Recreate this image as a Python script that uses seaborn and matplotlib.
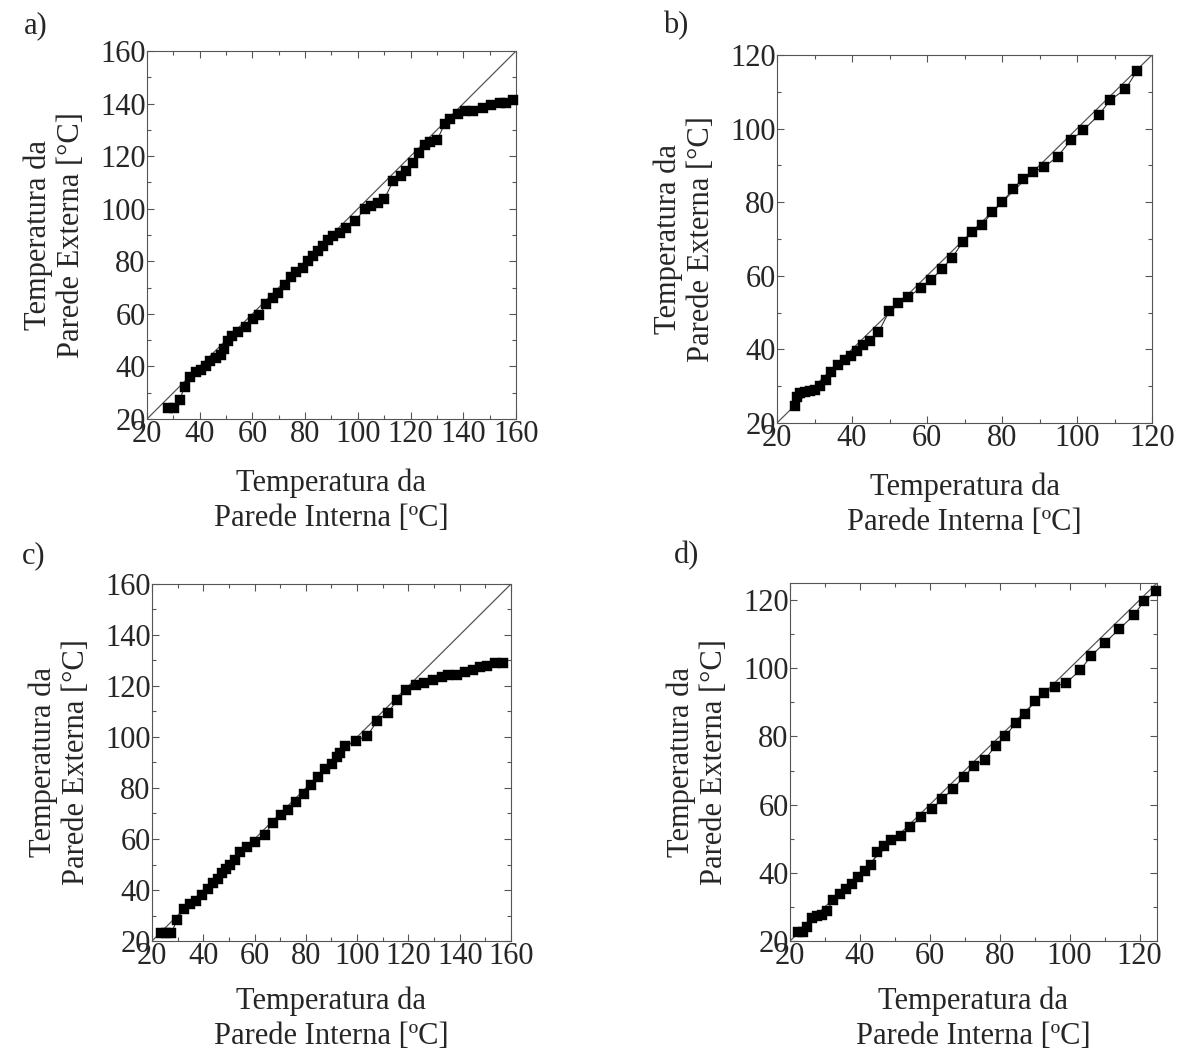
import numpy as np
import pandas as pd
import matplotlib
matplotlib.use("Agg")
import matplotlib.pyplot as plt
from matplotlib.ticker import MultipleLocator
import seaborn as sns

# ---------------- data ----------------
a_x = [28.0, 30.2, 32.4, 34.3, 36.2, 38.5, 40.6, 42.5, 44.1, 46.0, 47.9, 49.2, 50.7, 52.4,
       54.5, 57.7, 60.2, 62.5, 65.3, 67.8, 69.7, 72.2, 74.7, 76.6, 79.2, 81.1, 83.0, 84.9,
       86.8, 88.6, 90.5, 93.1, 95.6, 98.8, 102.6, 105.1, 107.6, 110.1, 113.3, 116.5, 118.4,
       121.0, 123.2, 125.3, 127.2, 130.1, 132.9, 135.0, 137.9, 140.5, 143.6, 147.4, 150.6,
       153.8, 156.3, 158.8]
a_y = [24.3, 24.3, 27.4, 32.2, 36.0, 37.7, 38.5, 40.0, 41.9, 43.2, 44.5, 46.6, 49.5, 51.4,
       53.0, 55.0, 58.0, 59.7, 63.7, 66.0, 67.9, 71.1, 74.2, 76.1, 77.4, 80.0, 82.1, 83.8,
       85.7, 88.2, 89.7, 90.7, 92.6, 95.2, 99.8, 101.1, 102.1, 103.8, 110.4, 112.3, 114.2,
       117.3, 121.1, 124.3, 125.2, 126.2, 132.2, 134.1, 136.1, 137.0, 137.1, 138.3, 139.5,
       140.1, 140.4, 141.2]

b_x = [24.7, 25.2, 26.2, 27.4, 28.7, 30.1, 31.4, 33.0, 34.5, 36.3, 38.1, 39.7, 41.2, 42.8,
       44.8, 47.0, 49.9, 52.3, 55.0, 58.3, 61.1, 63.9, 66.6, 69.5, 72.1, 74.7, 77.3, 80.1,
       82.9, 85.5, 88.2, 91.2, 94.8, 98.4, 101.7, 105.8, 108.9, 112.9, 116.0]
b_y = [24.5, 27.1, 28.0, 28.4, 28.6, 28.9, 30.0, 31.6, 33.8, 35.7, 37.0, 38.1, 39.5, 41.3,
       42.2, 44.6, 50.3, 52.6, 54.2, 56.7, 58.9, 61.8, 64.8, 69.1, 71.9, 73.7, 77.3, 80.0,
       83.6, 86.3, 88.1, 89.5, 92.4, 96.9, 99.6, 103.7, 107.8, 110.7, 115.7]

c_x = [23.5, 25.6, 27.5, 29.7, 32.3, 34.9, 37.3, 39.5, 41.8, 43.8, 45.6, 47.3, 49.0, 50.5,
       52.5, 54.4, 57.0, 60.3, 63.9, 67.0, 70.3, 73.2, 76.2, 79.1, 82.1, 84.9, 87.5, 90.1,
       92.1, 93.4, 95.3, 99.5, 104.0, 107.9, 111.9, 115.7, 119.0, 123.0, 126.1, 129.7, 133.0,
       135.6, 138.8, 142.1, 145.3, 147.9, 150.5, 153.8, 157.0]
c_y = [23.1, 23.1, 23.1, 28.1, 32.7, 34.4, 35.6, 38.2, 40.5, 42.9, 44.2, 46.7, 48.3, 49.7,
       51.9, 54.9, 56.9, 58.9, 61.5, 66.3, 69.3, 71.3, 74.6, 77.6, 81.1, 84.4, 87.4, 89.3,
       92.0, 93.8, 96.4, 98.5, 100.5, 106.4, 109.5, 114.5, 118.4, 120.4, 121.0, 122.3, 123.4,
       124.3, 124.5, 125.6, 126.2, 127.3, 127.8, 129.1, 129.2]

d_x = [22.2, 23.6, 24.8, 26.2, 27.7, 29.1, 30.6, 32.3, 34.2, 36.1, 37.8, 39.5, 41.4, 43.3,
       45.0, 46.9, 49.0, 51.7, 54.4, 57.5, 60.5, 63.5, 66.7, 69.8, 72.6, 75.7, 78.8, 81.5,
       84.6, 87.2, 90.1, 92.8, 95.7, 99.1, 103.1, 106.2, 110.1, 114.1, 118.3, 121.3, 124.8]
d_y = [22.5, 22.5, 24.0, 26.8, 27.2, 27.7, 28.9, 32.0, 33.8, 35.3, 36.7, 38.9, 40.4, 42.3,
       46.0, 48.0, 49.7, 50.7, 53.4, 56.5, 58.7, 61.6, 64.7, 68.2, 71.4, 73.2, 77.2, 80.0,
       83.9, 86.6, 90.4, 92.8, 94.5, 95.8, 99.5, 103.7, 107.5, 111.4, 115.5, 119.7, 122.6]

panel_letters = ["a)", "b)", "c)", "d)"]
x_label = "Temperatura da\nParede Interna [ºC]"
y_label = "Temperatura da\nParede Externa [°C]"
limits = [(20, 160), (20, 120), (20, 160), (20, 125)]

# ---------------- style ----------------
sns.set_style("ticks")
plt.rcParams["font.family"] = ["Liberation Serif", "DejaVu Serif"]

fig = plt.figure(figsize=(11.89, 10.52), dpi=100)

positions = [
    [0.1236, 0.6017, 0.3104, 0.3498],
    [0.6535, 0.5980, 0.3154, 0.3497],
    [0.1278, 0.1055, 0.3020, 0.3394],
    [0.6644, 0.1055, 0.3087, 0.3403],
]
letter_pos = [(0.020, 0.976), (0.558, 0.976), (0.018, 0.472), (0.567, 0.472)]
xlabel_pads = [14, 14, 11, 11]
datasets = [(a_x, a_y), (b_x, b_y), (c_x, c_y), (d_x, d_y)]

for i, ((xs, ys), pos, lim) in enumerate(zip(datasets, positions, limits)):
    ax = fig.add_axes(pos)
    df = pd.DataFrame({"x": xs, "y": ys})
    lo, hi = lim
    ax.axline((lo, lo), slope=1, color="#555555", lw=0.9, zorder=1)
    sns.lineplot(data=df, x="x", y="y", sort=False, ax=ax, color="#333333",
                 lw=0.8, zorder=2)
    sns.scatterplot(data=df, x="x", y="y", ax=ax, marker="s", s=62, color="black",
                    edgecolor="black", linewidth=0.3, zorder=3, clip_on=False)
    ax.set_xlim(lo, hi)
    ax.set_ylim(lo, hi)
    ax.xaxis.set_major_locator(MultipleLocator(20))
    ax.yaxis.set_major_locator(MultipleLocator(20))
    ax.xaxis.set_minor_locator(MultipleLocator(10))
    ax.yaxis.set_minor_locator(MultipleLocator(10))
    ax.tick_params(which="both", direction="in", top=True, right=True,
                   color="#555555", width=0.8)
    ax.tick_params(which="major", length=5, labelsize=22, pad=1)
    ax.tick_params(which="minor", length=3)
    for sp in ax.spines.values():
        sp.set_color("#555555")
        sp.set_linewidth(0.8)
    ax.set_xlabel(x_label, fontsize=22, labelpad=xlabel_pads[i], linespacing=1.25)
    ax.set_ylabel(y_label, fontsize=22, labelpad=10, linespacing=1.2)
    fig.text(letter_pos[i][0], letter_pos[i][1], panel_letters[i], fontsize=22,
             ha="left", va="center")

fig.savefig("out.png", dpi=100)
